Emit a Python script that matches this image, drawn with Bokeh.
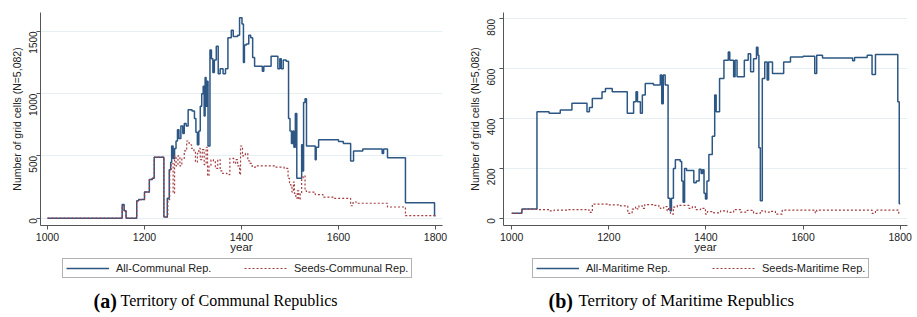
import math
from bokeh.plotting import figure
from bokeh.layouts import row, column
from bokeh.models import Range1d, Legend, LegendItem, Label, FixedTicker
from bokeh.embed import file_html
from bokeh.resources import INLINE

# ---------------- data ----------------
x_ticks = [1000, 1200, 1400, 1600, 1800]
comm_y_ticks = [0, 500, 1000, 1500]
mari_y_ticks = [0, 200, 400, 600, 800]

comm_all_year = [1000, 1154, 1158, 1162, 1184, 1188, 1200, 1210, 1216, 1220, 1240, 1247, 1251, 1254,
                 1256, 1259, 1262, 1265, 1268, 1271, 1275, 1279, 1282, 1286, 1290, 1298, 1303, 1306,
                 1309, 1312, 1315, 1318, 1321, 1323, 1325, 1327, 1329, 1331, 1335, 1338, 1341, 1344,
                 1348, 1352, 1356, 1362, 1367, 1372, 1379, 1383, 1392, 1396, 1401, 1404, 1406, 1410,
                 1415, 1419, 1423, 1427, 1443, 1446, 1461, 1475, 1479, 1482, 1486, 1492, 1497, 1500,
                 1503, 1506, 1508, 1511, 1514, 1524, 1526, 1528, 1531, 1534, 1552, 1554, 1559, 1600,
                 1610, 1625, 1631, 1650, 1690, 1693, 1701, 1738, 1798, 1800]
comm_all_val = [0, 110, 60, 0, 140, 150, 210, 310, 320, 490, 10, 160, 390, 450,
                580, 480, 560, 620, 710, 640, 740, 680, 760, 740, 870, 860, 800, 690,
                590, 700, 900, 1000, 1060, 820, 1130, 900, 1100, 580, 1350, 1280, 1170, 1270,
                1380, 1160, 1200, 1160, 1200, 1450, 1510, 1460, 1470, 1610, 1560, 1250, 1390, 1400,
                1470, 1450, 1290, 1220, 1180, 1220, 1300, 1200, 1280, 1200, 1270, 1260, 800, 700,
                600, 700, 570, 840, 320, 590, 380, 930, 960, 580, 470, 570, 630, 615,
                600, 460, 540, 555, 520, 555, 485, 125, 20, 20]

comm_seed_year = [1000, 1154, 1158, 1162, 1184, 1188, 1200, 1210, 1216, 1220, 1240, 1248, 1252, 1255,
                  1259, 1262, 1265, 1269, 1273, 1277, 1282, 1287, 1292, 1297, 1302, 1305, 1309, 1312,
                  1315, 1319, 1323, 1327, 1330, 1333, 1337, 1342, 1346, 1351, 1356, 1361, 1370, 1376,
                  1384, 1388, 1392, 1396, 1398, 1402, 1408, 1413, 1417, 1422, 1430, 1470, 1488, 1496,
                  1499, 1502, 1504, 1507, 1509, 1512, 1515, 1518, 1521, 1524, 1527, 1531, 1534, 1552,
                  1568, 1590, 1625, 1630, 1637, 1701, 1738, 1800]
comm_seed_val = [0, 100, 55, 0, 140, 150, 210, 310, 320, 490, 10, 150, 390, 440,
                 200, 500, 420, 500, 420, 480, 540, 620, 590, 560, 540, 450, 520, 560,
                 470, 550, 430, 570, 340, 420, 470, 460, 400, 470, 380, 360, 350, 480,
                 440, 470, 420, 350, 580, 500, 520, 460, 440, 410, 420, 410, 400, 320,
                 270, 250, 210, 290, 200, 160, 220, 150, 200, 310, 340, 220, 210, 190,
                 170, 160, 100, 130, 120, 90, 20, 20]

mari_all_year = [1000, 1021, 1052, 1077, 1100, 1124, 1155, 1160, 1166, 1186, 1193, 1207, 1238, 1251,
                 1256, 1259, 1265, 1269, 1275, 1292, 1306, 1309, 1312, 1316, 1322, 1326, 1329, 1333,
                 1337, 1347, 1350, 1353, 1356, 1360, 1375, 1380, 1386, 1390, 1393, 1396, 1399, 1402,
                 1406, 1413, 1418, 1421, 1428, 1437, 1446, 1449, 1457, 1460, 1464, 1479, 1487, 1492,
                 1498, 1504, 1507, 1509, 1512, 1516, 1521, 1526, 1529, 1537, 1560, 1574, 1600, 1624,
                 1628, 1640, 1702, 1706, 1732, 1742, 1749, 1795, 1798, 1800]
mari_all_val = [20, 37, 428, 422, 435, 462, 428, 445, 481, 508, 521, 508, 422, 468,
                508, 468, 422, 495, 541, 535, 575, 460, 575, 535, 80, 30, 80, 200,
                235, 228, 150, 64, 200, 192, 143, 150, 197, 180, 195, 100, 77, 150,
                256, 329, 495, 428, 561, 634, 667, 634, 568, 634, 568, 634, 660, 588,
                640, 687, 654, 283, 70, 561, 627, 555, 627, 581, 627, 647, 650, 581,
                654, 643, 632, 645, 654, 577, 657, 468, 58, 58]

mari_seed_year = [1000, 1021, 1052, 1077, 1087, 1114, 1159, 1166, 1197, 1224, 1239, 1248, 1255, 1258,
                  1262, 1269, 1274, 1293, 1303, 1306, 1313, 1320, 1323, 1327, 1333, 1341, 1365, 1372,
                  1378, 1389, 1399, 1403, 1416, 1430, 1444, 1457, 1471, 1485, 1498, 1512, 1522, 1533,
                  1543, 1557, 1625, 1628, 1742, 1749, 1797, 1800]
mari_seed_val = [20, 37, 35, 30, 33, 35, 24, 57, 54, 50, 20, 37, 45, 38,
                 50, 40, 55, 52, 46, 40, 47, 30, 42, 17, 45, 52, 40, 47,
                 35, 40, 17, 27, 22, 30, 24, 35, 25, 32, 20, 30, 25, 28,
                 17, 33, 22, 33, 20, 33, 20, 20]

assert len(comm_all_year) == len(comm_all_val)
assert len(comm_seed_year) == len(comm_seed_val)
assert len(mari_all_year) == len(mari_all_val)
assert len(mari_seed_year) == len(mari_seed_val)

# ---------------- styles ----------------
BLUE = "#2c5784"
RED = "#a53c41"
GRID = "#e6eff1"
AXIS = "#555555"
SANS = "Liberation Sans"
SERIF = "Liberation Serif"


def panel(fig_w, frame_w, border_left, xr, yr, yticks, ylab_standoff,
          all_x, all_y, seed_x, seed_y, lab_all, lab_seed, letter, caption,
          legend_x, letter_x, cap_x, label_width, spacing, cap_size, letter_size):
    border_right = fig_w - frame_w - border_left
    p = figure(frame_width=frame_w, frame_height=213,
               x_range=Range1d(*xr), y_range=Range1d(*yr),
               output_backend="svg", toolbar_location=None,
               min_border_left=border_left, min_border_right=border_right,
               min_border_top=12, min_border_bottom=33)
    p.outline_line_color = None
    p.background_fill_color = "white"
    p.border_fill_color = "white"
    p.xgrid.grid_line_color = None
    p.ygrid.grid_line_color = GRID
    p.ygrid.grid_line_width = 1

    p.step(all_x, all_y, mode="after", line_color=BLUE, line_width=1.5)
    p.step(seed_x, seed_y, mode="after", line_color=RED, line_width=1.2, line_dash="2 2")

    for ax in (p.xaxis[0], p.yaxis[0]):
        ax.axis_line_color = AXIS
        ax.major_tick_line_color = AXIS
        ax.minor_tick_line_color = None
        ax.major_tick_in = 0
        ax.major_tick_out = 4
        ax.major_label_text_font = SANS
        ax.major_label_text_color = "#222222"
        ax.axis_label_text_font = SANS
        ax.axis_label_text_font_style = "normal"
        ax.axis_label_text_color = "#222222"

    p.xaxis.ticker = FixedTicker(ticks=x_ticks)
    p.xaxis.major_label_text_font_size = "10.5px"
    p.xaxis.major_label_standoff = 3
    p.xaxis.axis_label = "year"
    p.xaxis.axis_label_text_font_size = "11.5px"
    p.xaxis.axis_label_standoff = -3

    p.yaxis.ticker = FixedTicker(ticks=yticks)
    p.yaxis.major_label_orientation = math.pi / 2
    p.yaxis.major_label_text_font_size = "10px"
    p.yaxis.major_label_standoff = ylab_standoff
    p.yaxis.axis_label = "Number of grid cells (N=5,082)"
    p.yaxis.axis_label_text_font_size = "10.5px"
    p.yaxis.axis_label_standoff = 0

    # legend + caption strip below the chart (its data stays outside its y range)
    b = figure(frame_width=frame_w, frame_height=59,
               x_range=Range1d(*xr), y_range=Range1d(-3, -2),
               output_backend="svg", toolbar_location=None,
               x_axis_location=None, y_axis_location=None,
               min_border_left=border_left, min_border_right=border_right,
               min_border_top=0, min_border_bottom=0)
    b.outline_line_color = None
    b.grid.grid_line_color = None
    b.background_fill_color = "white"
    b.border_fill_color = "white"
    g_all = b.step(all_x, all_y, mode="after", line_color=BLUE, line_width=1.5)
    g_seed = b.step(seed_x, seed_y, mode="after", line_color=RED, line_width=1.2,
                    line_dash="2 2")

    legend = Legend(items=[LegendItem(label=lab_all, renderers=[g_all]),
                           LegendItem(label=lab_seed, renderers=[g_seed])],
                    orientation="horizontal", location=(legend_x, 39))
    legend.border_line_color = "#666666"
    legend.border_line_width = 1
    legend.background_fill_color = "white"
    legend.background_fill_alpha = 1
    legend.padding = 3
    legend.spacing = spacing
    legend.margin = 0
    legend.glyph_width = 43
    legend.glyph_height = 10
    legend.label_height = 10
    legend.label_width = label_width
    legend.label_standoff = 7
    legend.label_text_font = SANS
    legend.label_text_font_size = "11px"
    legend.label_text_color = "#222222"
    b.add_layout(legend, "center")

    b.add_layout(Label(x=letter_x, y=17, x_units="screen", y_units="screen", text=letter,
                       text_font=SERIF, text_font_style="bold", text_font_size=letter_size,
                       text_color="black", text_baseline="alphabetic"))
    b.add_layout(Label(x=cap_x, y=17, x_units="screen", y_units="screen", text=caption,
                       text_font=SERIF, text_font_size=cap_size,
                       text_color="black", text_baseline="alphabetic"))
    return column(p, b, spacing=0)


pa = panel(460, 402, 40, (985.6, 1814.4), (-58.6, 1652), comm_y_ticks, 3,
           comm_all_year, comm_all_val, comm_seed_year, comm_seed_val,
           "All-Communal Rep.", "Seeds-Communal Rep.", "(a)",
           "Territory of Communal Republics", 22, 53, 80, 100, 28, "16px", "20px")
pb = panel(457, 404, 43, (983.1, 1815), (-29, 826), mari_y_ticks, 8,
           mari_all_year, mari_all_val, mari_seed_year, mari_seed_val,
           "All-Maritime Rep.", "Seeds-Maritime Rep.", "(b)",
           "Territory of Maritime Republics", 29, 45, 75, 96, 30, "16.8px", "20px")

layout = row(pa, pb, spacing=0)
open("out.html", "w").write(file_html(layout, INLINE))
